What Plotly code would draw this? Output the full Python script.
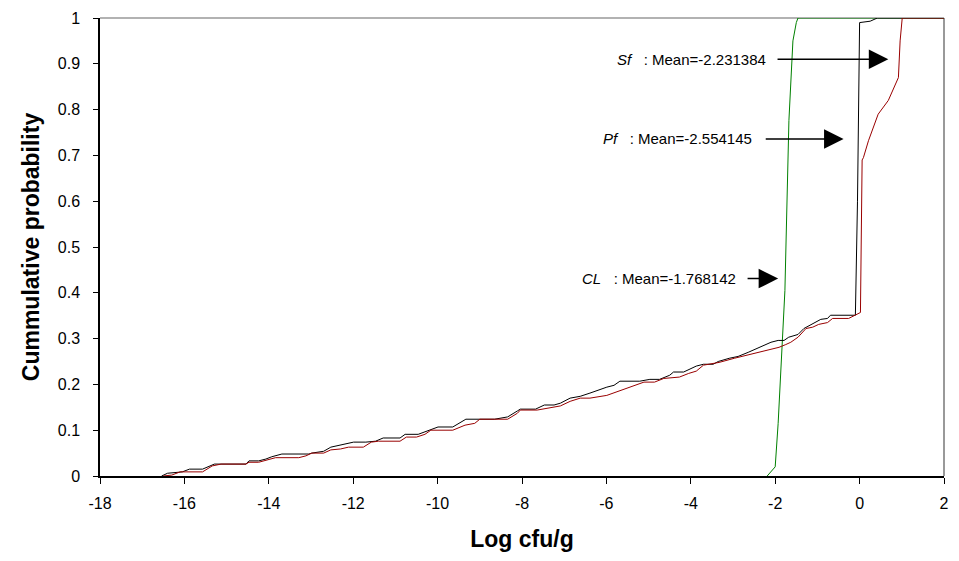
import plotly.graph_objects as go

# ---- data ----
cl_x = [-2.19, -2.0, -1.93, -1.85, -1.77, -1.675, -1.62, -1.58, -1.50, -1.46, 2.0]
cl_y = [0.0, 0.02, 0.115, 0.25, 0.405, 0.776, 0.88, 0.95, 0.99, 1.0, 1.0]

pf_x = [-16.54, -16.4, -16.05, -15.88, -15.57, -15.29, -14.54, -14.47, -14.24, -14.07, -13.93,
        -13.69, -13.05, -12.98, -12.7, -12.53, -11.99, -11.7, -11.47, -11.29, -10.89, -10.77,
        -10.46, -10.23, -9.99, -9.64, -9.33, -8.65, -8.34, -8.11, -8.04, -7.68, -7.47, -7.24,
        -7.09, -6.86, -6.62, -6.39, -6.22, -5.99, -5.82, -5.68, -5.21, -4.97, -4.74, -4.50,
        -4.41, -4.17, -3.87, -3.70, -3.47, -3.35, -3.09, -2.88, -2.64, -2.41, -2.26, -2.10,
        -1.93, -1.79, -1.68, -1.46, -1.32, -1.11, -0.92, -0.76, -0.69, -0.10, -0.05, 0.0,
        0.25, 0.42, 2.0]
pf_y = [0.0, 0.006, 0.009, 0.015, 0.015, 0.026, 0.026, 0.033, 0.033, 0.037, 0.042,
        0.048, 0.048, 0.05, 0.054, 0.063, 0.074, 0.074, 0.076, 0.083, 0.083, 0.091,
        0.091, 0.098, 0.107, 0.107, 0.124, 0.124, 0.129, 0.142, 0.146, 0.146, 0.155, 0.155,
        0.159, 0.17, 0.174, 0.181, 0.187, 0.194, 0.198, 0.207, 0.207, 0.211, 0.211, 0.22,
        0.227, 0.227, 0.24, 0.244, 0.244, 0.25, 0.257, 0.261, 0.27, 0.279, 0.285, 0.292,
        0.296, 0.296, 0.303, 0.309, 0.322, 0.333, 0.342, 0.344, 0.351, 0.351, 0.6, 0.99,
        0.993, 1.0, 1.0]

sf_x = [-16.5, -16.3, -16.1, -15.57, -15.34, -15.13, -14.54, -14.47, -14.24, -14.0, -13.84,
        -13.29, -13.12, -12.98, -12.7, -12.53, -12.3, -12.11, -11.76, -11.57, -11.4, -10.89,
        -10.74, -10.5, -10.30, -10.16, -9.64, -9.35, -9.12, -9.0, -8.34, -8.11, -8.04, -7.64,
        -7.09, -6.86, -6.62, -6.39, -6.15, -5.99, -5.11, -4.86, -4.64, -4.27, -4.05, -3.87,
        -3.70, -3.33, -2.97, -2.41, -2.17, -1.91, -1.75, -1.63, -1.46, -1.27, -1.11, -0.97,
        -0.76, -0.64, -0.26, -0.03, 0.02, 0.06, 0.09, 0.21, 0.30, 0.44, 0.68, 0.92, 0.96,
        1.01, 2.0]
sf_y = [0.0, 0.002, 0.009, 0.009, 0.022, 0.026, 0.026, 0.03, 0.03, 0.037, 0.04,
        0.04, 0.044, 0.05, 0.05, 0.057, 0.059, 0.063, 0.063, 0.074, 0.076, 0.076,
        0.085, 0.085, 0.091, 0.1, 0.1, 0.111, 0.115, 0.124, 0.124, 0.137, 0.144, 0.144,
        0.153, 0.163, 0.17, 0.17, 0.174, 0.176, 0.205, 0.205, 0.213, 0.216, 0.224, 0.229,
        0.242, 0.248, 0.257, 0.27, 0.275, 0.281, 0.287, 0.292, 0.303, 0.322, 0.325, 0.331,
        0.335, 0.344, 0.344, 0.355, 0.357, 0.69, 0.695, 0.732, 0.754, 0.79, 0.82, 0.87, 0.95,
        1.0, 1.0]

x_ticks = [-18, -16, -14, -12, -10, -8, -6, -4, -2, 0, 2]
y_ticks = [0, 0.1, 0.2, 0.3, 0.4, 0.5, 0.6, 0.7, 0.8, 0.9, 1]
y_tick_text = ["0", "0.1", "0.2", "0.3", "0.4", "0.5", "0.6", "0.7", "0.8", "0.9", "1"]

labels = ["<i>Sf</i>   : Mean=-2.231384", "<i>Pf</i>   : Mean=-2.554145", "<i>CL</i>   : Mean=-1.768142"]
label_x = [-2.17, -2.50, -2.88]
label_y = [0.91, 0.736, 0.431]
arrow_tail_x = [-1.98, -2.26, -2.69]
arrow_tip_x = [0.68, -0.38, -1.93]

FONT = "Liberation Sans, Arial, sans-serif"

fig = go.Figure()
fig.add_trace(go.Scatter(x=cl_x, y=cl_y, mode="lines", name="CL",
                         line=dict(color="#008000", width=1)))
fig.add_trace(go.Scatter(x=pf_x, y=pf_y, mode="lines", name="Pf",
                         line=dict(color="#000000", width=1)))
fig.add_trace(go.Scatter(x=sf_x, y=sf_y, mode="lines", name="Sf",
                         line=dict(color="#990000", width=1)))

annotations = []
for t, lx, ly, tx, hx in zip(labels, label_x, label_y, arrow_tail_x, arrow_tip_x):
    annotations.append(dict(x=lx, y=ly, xref="x", yref="y", text=t, showarrow=False,
                            xanchor="right", yanchor="middle",
                            font=dict(family=FONT, size=15, color="black")))
    annotations.append(dict(x=hx, y=ly, ax=tx, ay=ly, xref="x", yref="y",
                            axref="x", ayref="y", text="", showarrow=True,
                            arrowhead=2, arrowsize=2.6, arrowwidth=1.5,
                            arrowcolor="black"))

fig.update_layout(
    width=959, height=561,
    margin=dict(l=100, r=10, t=17, b=85),
    paper_bgcolor="white", plot_bgcolor="white",
    showlegend=False,
    font=dict(family=FONT, size=15, color="black"),
    annotations=annotations,
    shapes=[
        dict(type="line", xref="paper", yref="paper", x0=0, x1=1, y0=1, y1=1,
             line=dict(color="#999999", width=1.5), layer="below"),
        dict(type="line", xref="paper", yref="paper", x0=1, x1=1, y0=0, y1=1,
             line=dict(color="#999999", width=2), layer="below"),
    ],
    xaxis=dict(
        range=[-18, 2], tickvals=x_ticks, ticktext=[str(v) for v in x_ticks],
        showgrid=False, zeroline=False, showline=True, linecolor="black", linewidth=1.5,
        ticks="outside", ticklen=6, tickcolor="black", tickwidth=1,
        ticklabelstandoff=6,
        title=dict(text="<b>Log cfu/g</b>", font=dict(family=FONT, size=23), standoff=20),
        tickfont=dict(family=FONT, size=16),
    ),
    yaxis=dict(
        range=[0, 1], tickvals=y_ticks, ticktext=y_tick_text,
        showgrid=False, zeroline=False, showline=True, linecolor="black", linewidth=1.5,
        ticks="outside", ticklen=5, tickcolor="black", tickwidth=1,
        ticklabelstandoff=10,
        title=dict(text="<b>Cummulative probability</b>", font=dict(family=FONT, size=23), standoff=12),
        tickfont=dict(family=FONT, size=16),
    ),
)

fig.write_html("out.html")
